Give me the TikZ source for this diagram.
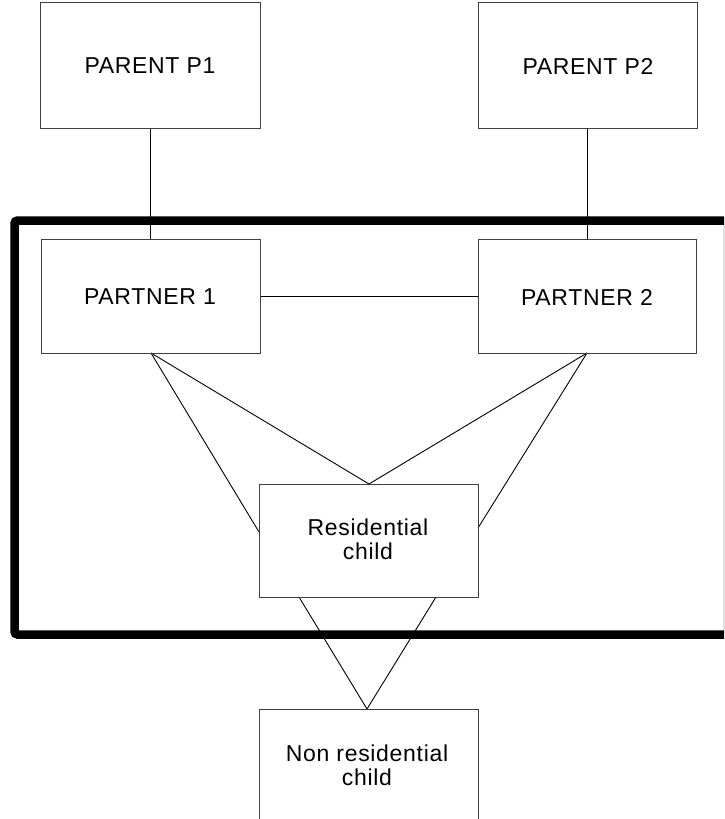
\documentclass[tikz,border=0pt]{standalone}
\usepackage{fontspec}
\setmainfont{Liberation Sans}[LetterSpace=3]
\begin{document}
\begin{tikzpicture}[x=1pt,y=-1pt,
  label/.style={font=\fontsize{23}{24}\selectfont,align=center,inner sep=0pt},
  boxline/.style={draw=black!75,line width=1pt},
  link/.style={draw=black,line width=0.9pt},
  household/.style={draw=black,line width=8.5pt,rounded corners=3pt}]
\useasboundingbox (0,0) rectangle (724,819);
\clip (0,0) rectangle (724,819);
% household frame
\draw[household] (14.5,220.5) rectangle (728,634.5);
% box corners
\coordinate (p1nw) at (40,2); \coordinate (p1se) at (260,128);
\coordinate (p2nw) at (478,2); \coordinate (p2se) at (697,128);
\coordinate (a1nw) at (41,239); \coordinate (a1se) at (260,353);
\coordinate (a2nw) at (478,239); \coordinate (a2se) at (696,353);
\coordinate (rcnw) at (259,484); \coordinate (rcse) at (478,597);
\coordinate (ncnw) at (259,709); \coordinate (ncse) at (478,840);
% connector ends
\coordinate (p1b) at (150,128); \coordinate (a1t) at (150,239);
\coordinate (p2b) at (587,128); \coordinate (a2t) at (587,239);
\coordinate (a1r) at (260,296); \coordinate (a2l) at (478,296);
\coordinate (a1b) at (151,353); \coordinate (a2b) at (587,353);
\coordinate (rct) at (369,484); \coordinate (rcl) at (259,532);
\coordinate (rcr) at (478,528);
\coordinate (rcb1) at (299,597); \coordinate (rcb2) at (436,597);
\coordinate (nct) at (367,709);
\draw[link] (p1b) -- (a1t);
\draw[link] (p2b) -- (a2t);
\draw[link] (a1r) -- (a2l);
\draw[link] (a1b) -- (rct);
\draw[link] (a1b) -- (rcl);
\draw[link] (a2b) -- (rct);
\draw[link] (a2b) -- (rcr);
\draw[link] (rcb1) -- (nct) -- (rcb2);
% boxes
\foreach \b in {p1,p2,a1,a2,rc,nc}
  \draw[boxline] (\b nw) rectangle (\b se);
\node[label] (parent1) at (150,66) {PARENT P1};
\node[label] (parent2) at (588,66) {PARENT P2};
\node[label] (partner1) at (150,297) {PARTNER 1};
\node[label] (partner2) at (587,297) {PARTNER 2};
\node[label] (resid) at (368,539) {Residential\\child};
\node[label] (nonresid) at (367,765) {Non residential\\child};
\end{tikzpicture}
\end{document}
